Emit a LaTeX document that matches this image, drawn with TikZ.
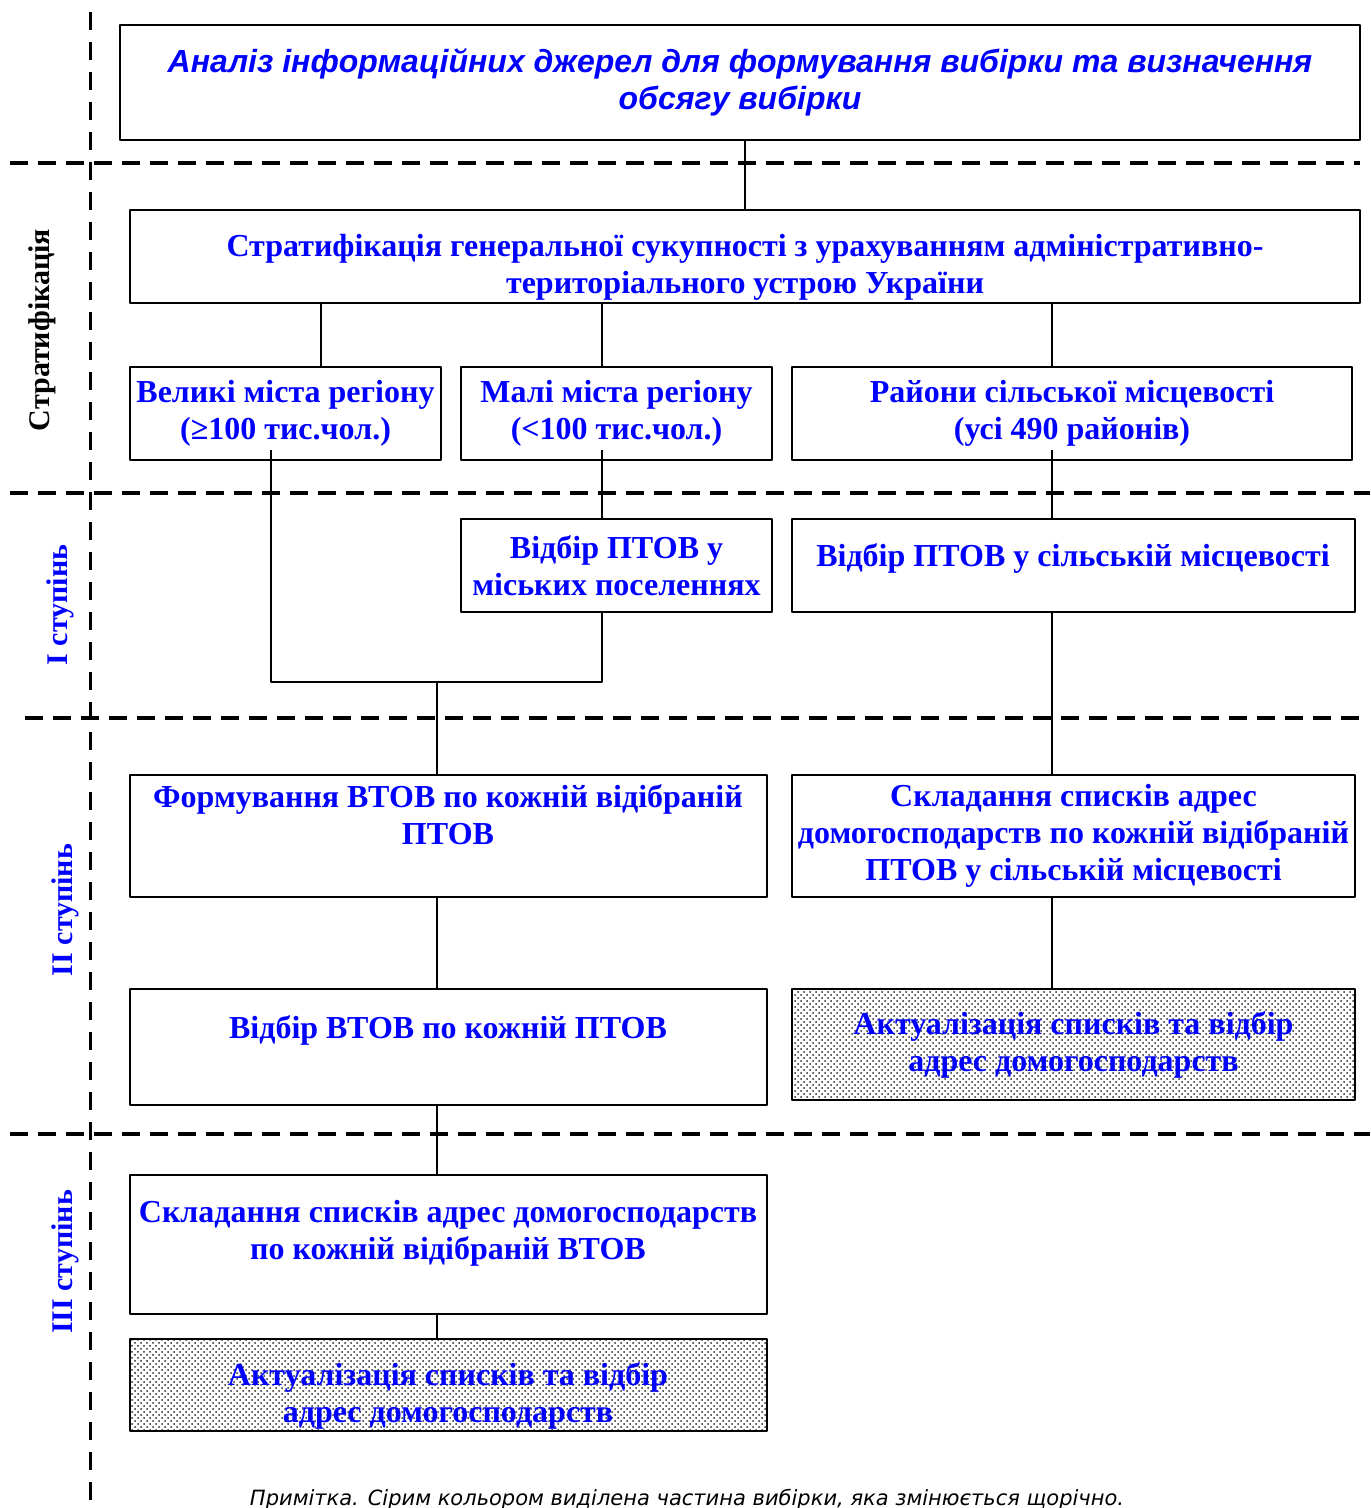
\documentclass[tikz,border=0pt]{standalone}
\usepackage{fontspec}
\setmainfont{Liberation Serif}
\newfontfamily\arialfont{Liberation Sans}
\newfontfamily\verdfont{DejaVu Sans}
\usetikzlibrary{patterns}

\begin{document}
\begin{tikzpicture}[x=0.5pt,y=-0.5pt,line join=round,
	box/.style={draw,line width=1pt,inner sep=0pt,outer sep=0pt,anchor=north west,align=center,text=blue,
		font=\fontsize{16}{18.5}\selectfont\bfseries},
	greybox/.style={box,pattern=crosshatch dots,pattern color=black!85},
	txt/.style={align=center,text=blue,inner sep=0pt,font=\fontsize{16}{18.5}\selectfont\bfseries},
	stage/.style={rotate=90,text=blue,font=\fontsize{15}{18}\selectfont\bfseries},
	sep/.style={line width=2pt,dash pattern=on 9pt off 5pt},
	vsep/.style={line width=1.5pt,dash pattern=on 9pt off 6pt},
	link/.style={line width=0.7pt}]
	\useasboundingbox (0,0) rectangle (1370,1508);
	% роздільники
	\draw[vsep] (90,12)--(90,1508);
	\draw[sep] (10,163)--(1360,163);
	\draw[sep] (10,493)--(1370,493);
	\draw[sep] (25,718)--(1365,718);
	\draw[sep] (10,1134)--(1370,1134);
	% етапи
	\node[stage,text=black] (lstrat) at (42,330) {Стратифікація};
	\node[stage] (lst1) at (60,605) {I ступінь};
	\node[stage] (lst2) at (65,910) {II ступінь};
	\node[stage] (lst3) at (65,1262) {III ступінь};
	% блоки
	\node[box,minimum width=620pt,minimum height=57.5pt,font=\arialfont\fontsize{16}{18.5}\selectfont\bfseries\itshape]
		(anal) at (120,25) {Аналіз інформаційних джерел для формування вибірки та визначення\\ обсягу вибірки};
	\node[box,minimum width=615pt,minimum height=46.5pt] (strat) at (130,210) {};
	\node[txt] (stratt) at (745,267)
		{Стратифікація генеральної сукупності з урахуванням адміністративно-\\ територіального устрою України};
	\node[box,minimum width=155.5pt,minimum height=46.5pt] (velyki) at (130,367) {Великі міста регіону\\ (≥100 тис.чол.)};
	\node[box,minimum width=155.5pt,minimum height=46.5pt] (mali) at (461,367) {Малі міста регіону\\ (<100 тис.чол.)};
	\node[box,minimum width=280pt,minimum height=46.5pt] (rajony) at (792,367) {Райони сільської місцевості\\ (усі 490 районів)};
	\node[box,minimum width=155.5pt,minimum height=46.5pt] (vidm) at (461,519) {Відбір ПТОВ у\\ міських поселеннях};
	\node[box,minimum width=281.5pt,minimum height=46.5pt] (vids) at (792,519) {};
	\node[txt] (vidst) at (1073,558) {Відбір ПТОВ у сільській місцевості};
	\node[box,minimum width=318.5pt,minimum height=61pt] (form) at (130,775) {};
	\node[txt,anchor=north] (formt) at (448,784) {Формування ВТОВ по кожній відібраній\\ ПТОВ};
	\node[box,minimum width=281.5pt,minimum height=61pt] (skls) at (792,775)
		{Складання списків адрес\\ домогосподарств по кожній відібраній\\ ПТОВ у сільській місцевості};
	\node[box,minimum width=318.5pt,minimum height=58pt] (vidv) at (130,989) {};
	\node[txt,anchor=north] (vidvt) at (448,1015) {Відбір ВТОВ по кожній ПТОВ};
	\node[greybox,minimum width=281.5pt,minimum height=55.5pt] (aktr) at (792,989) {Актуалізація списків та відбір\\ адрес домогосподарств};
	\node[box,minimum width=318.5pt,minimum height=69.5pt] (sklv) at (130,1175) {};
	\node[txt,anchor=north] (sklvt) at (448,1200) {Складання списків адрес домогосподарств\\ по кожній відібраній ВТОВ};
	\node[greybox,minimum width=318.5pt,minimum height=46pt] (aktv) at (130,1339) {};
	\node[txt] (aktvt) at (448,1396) {Актуалізація списків та відбір\\ адрес домогосподарств};
	\node[font=\verdfont\fontsize{10.5}{12}\selectfont\itshape] (prim) at (687,1500)
		{Примітка. Сірим кольором виділена частина вибірки, яка змінюється щорічно.};
	% з'єднання
	\coordinate (xa) at (745,0); \coordinate (x1) at (321,0);
	\coordinate (x2) at (602,0); \coordinate (x3) at (1052,0);
	\coordinate (jl) at (271,682); \coordinate (jr) at (602,682); \coordinate (jn) at (437,682);
	\draw[link] (anal.south -| xa)--(strat.north -| xa);
	\draw[link] (strat.south -| x1)--(velyki.north -| x1);
	\draw[link] (strat.south -| x2)--(mali.north -| x2);
	\draw[link] (strat.south -| x3)--(rajony.north -| x3);
	\draw[link] ([yshift=5pt]mali.south -| x2)--(vidm.north -| x2);
	\draw[link] ([yshift=5pt]rajony.south -| x3)--(vids.north -| x3);
	\draw[link] ([yshift=5pt]velyki.south -| jl)--(jl)--(jr)--(vidm.south -| jr);
	\draw[link] (jn)--(form.north -| jn);
	\draw[link] (vids.south -| x3)--(skls.north -| x3);
	\draw[link] (form.south -| jn)--(vidv.north -| jn);
	\draw[link] (skls.south -| x3)--(aktr.north -| x3);
	\draw[link] (vidv.south -| jn)--(sklv.north -| jn);
	\draw[link] (sklv.south -| jn)--(aktv.north -| jn);
\end{tikzpicture}
\end{document}
